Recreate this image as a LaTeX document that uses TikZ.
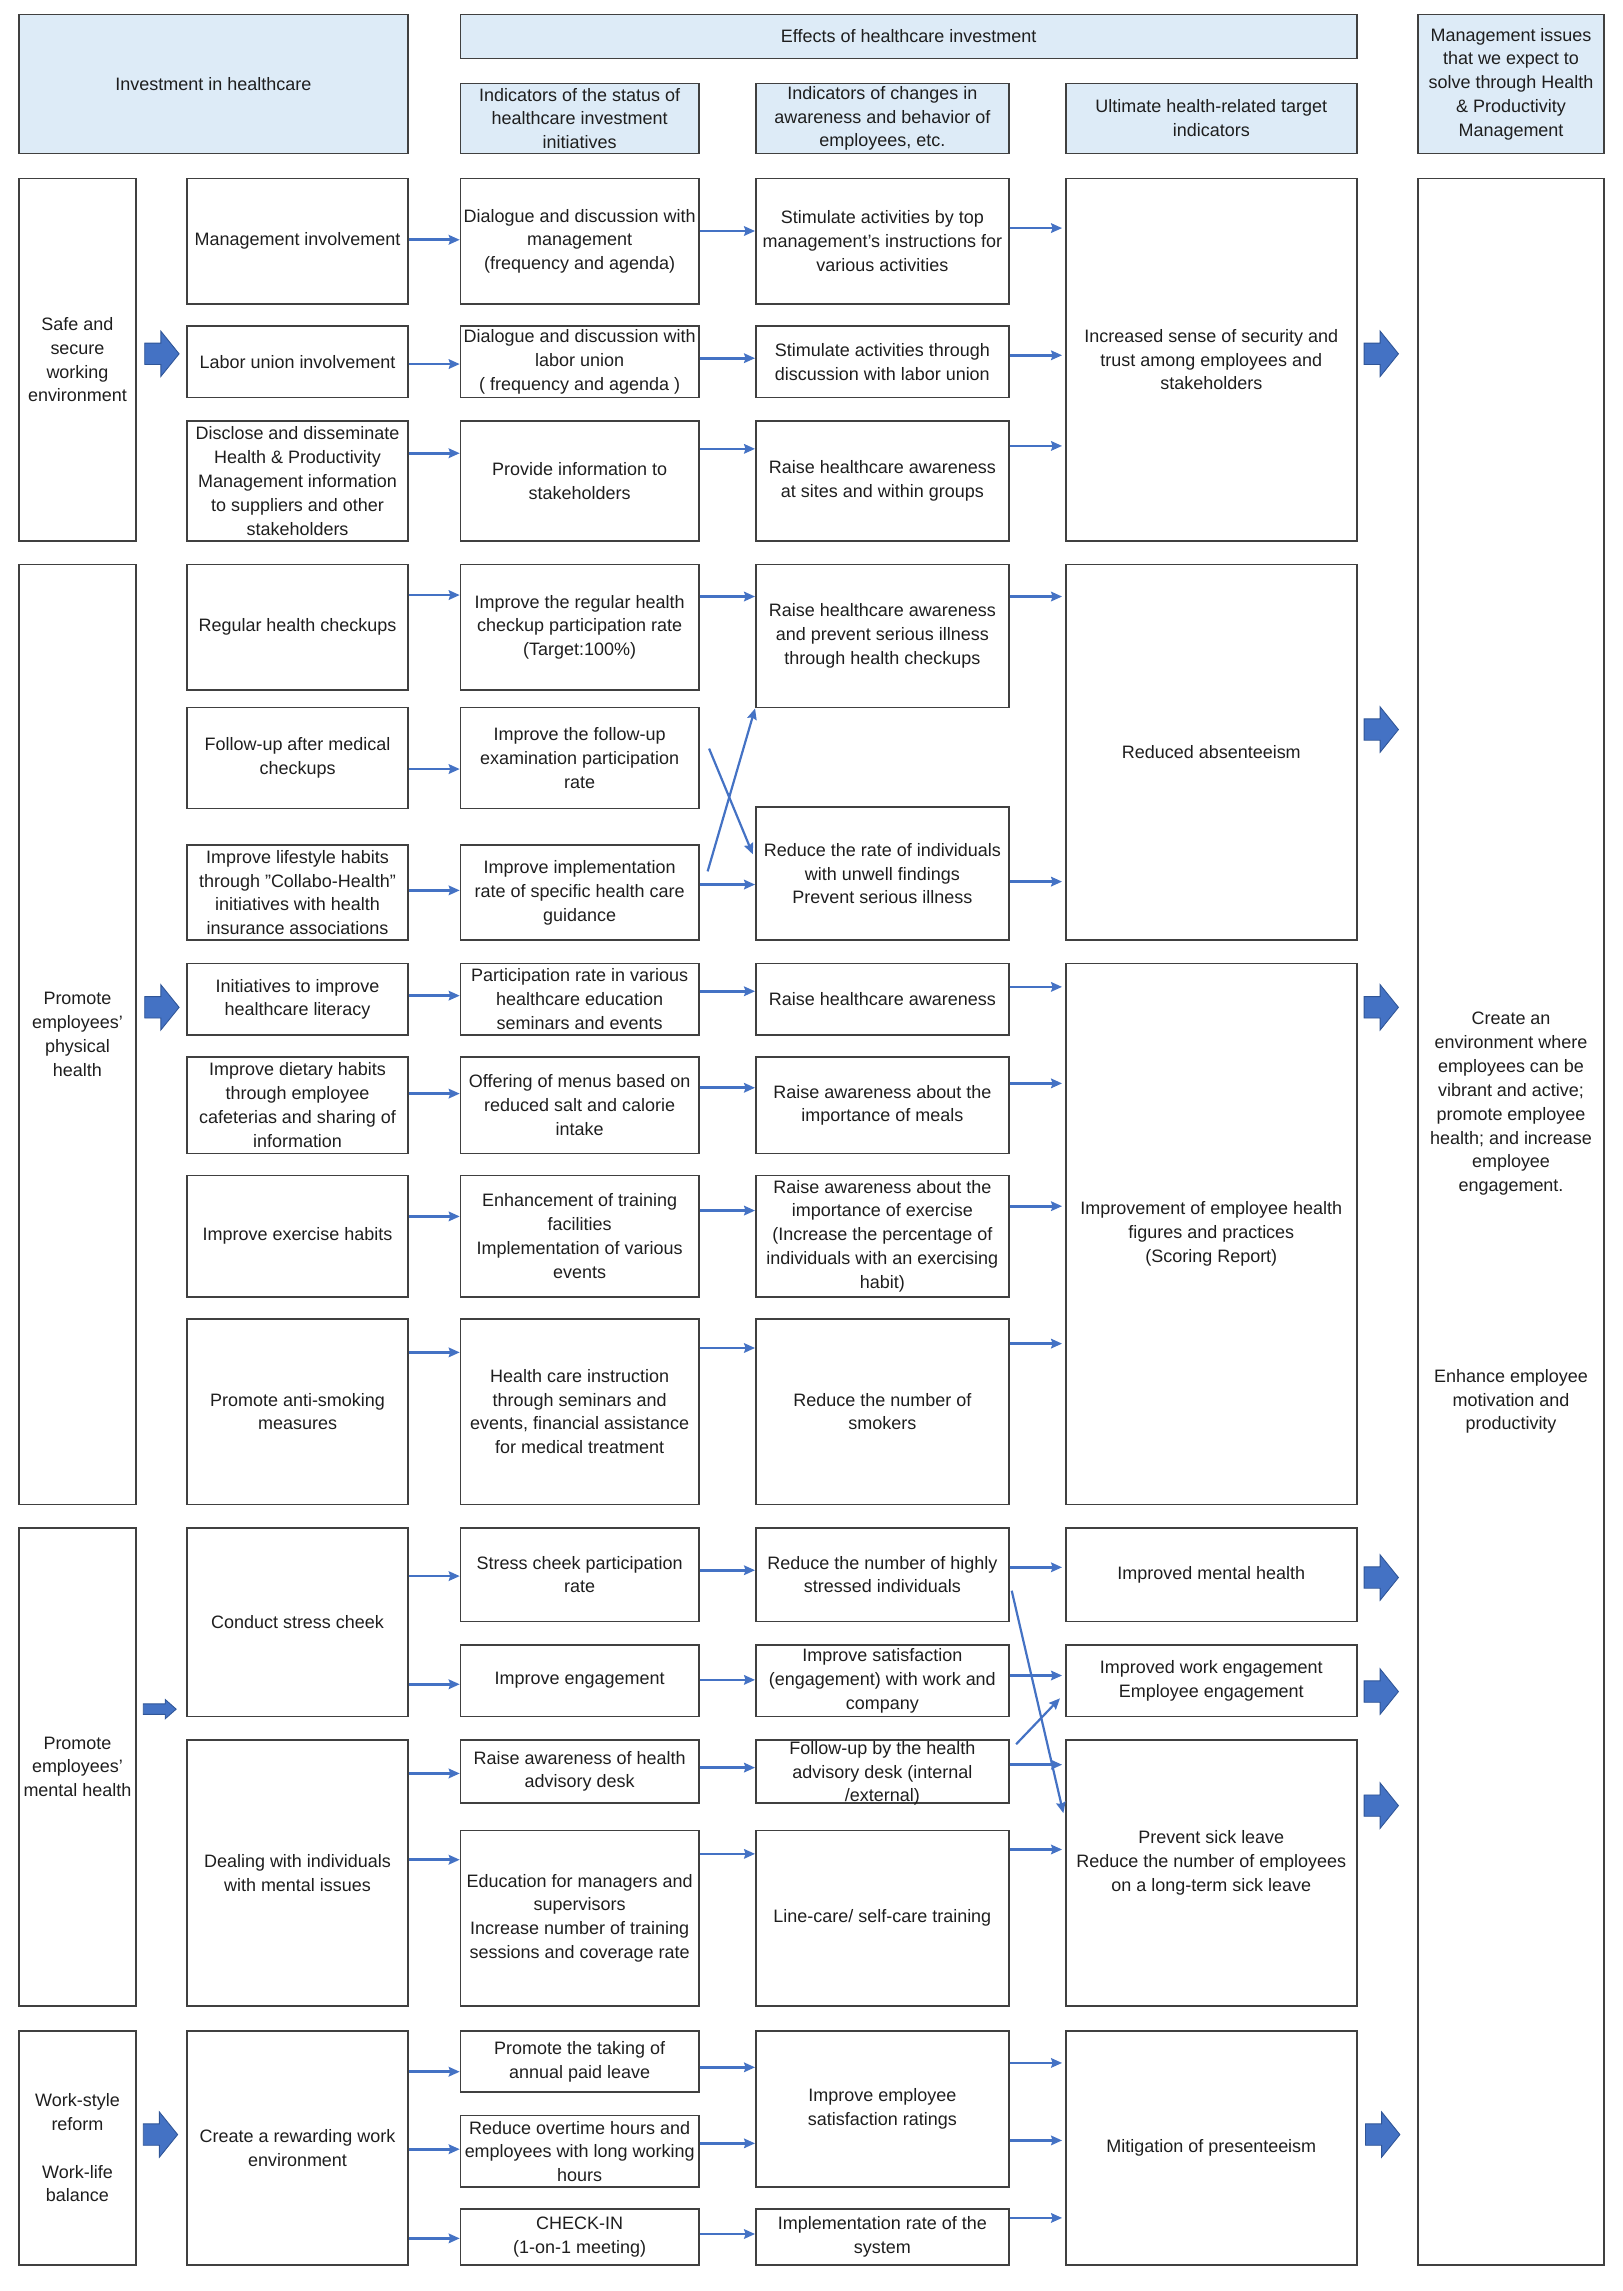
\documentclass[tikz,border=0pt]{standalone}
\usepackage{fontspec}
\setmainfont{Liberation Sans}
\usepackage{tikz}
\usetikzlibrary{arrows.meta}

\definecolor{boxgray}{HTML}{404040}
\definecolor{headblue}{HTML}{DDEBF7}
\definecolor{arrowblue}{HTML}{4472C4}
\definecolor{arrowedge}{HTML}{2F5597}
\definecolor{textdark}{HTML}{1E1E1E}
\newcommand{\boxfont}{\fontsize{12.3pt}{16.3pt}\selectfont}

\tikzset{
	box/.style={draw=boxgray, line width=1.1pt, inner sep=0pt, align=center,
		font=\boxfont, text=textdark},
	head/.style={box, fill=headblue},
	boxtext/.style={inner sep=0pt, align=center, font=\boxfont, text=textdark},
	span/.style n args={4}{at={({(#1+#3)/2},{(#2+#4)/2})},
		minimum width={#3-#1}, minimum height={#4-#2}},
	bigarrow/.style={fill=arrowblue, draw=arrowedge, line width=0.6pt},
	blockarrow/.pic={\filldraw[bigarrow] (0,-7.3) -- (11,-7.3) -- (11,-15.5)
		-- (23.5,0) -- (11,15.5) -- (11,7.3) -- (0,7.3) -- cycle;},
	smallarrow/.pic={\filldraw[bigarrow] (0,-3.6) -- (15,-3.6) -- (15,-6.6)
		-- (22.5,0) -- (15,6.6) -- (15,3.6) -- (0,3.6) -- cycle;}
}

\begin{document}
\begin{tikzpicture}[x=1pt, y=-1pt]
	\useasboundingbox (0,0) rectangle (1110,1567);

	% headers
	\node[head, span={13}{10}{279}{105}] (hinvest) {Investment in healthcare};
	\node[head, span={315}{10}{928}{40}] (heffects) {Effects of healthcare investment};
	\node[head, span={315}{57}{478}{105}] (hstatus)
		{Indicators of the status of\\healthcare investment\\initiatives};
	\node[head, span={517}{57}{690}{105}] (hchanges)
		{Indicators of changes in\\awareness and behavior of\\employees, etc.};
	\node[head, span={729}{57}{928}{105}] (htarget)
		{Ultimate health-related target\\indicators};
	\node[head, span={970}{10}{1097}{105}] (hissues)
		{Management issues\\that we expect to\\solve through Health\\\& Productivity\\Management};

	% safe and secure working environment
	\node[box, span={13}{122}{93}{370}] (safe) {Safe and\\secure\\working\\environment};
	\node[box, span={128}{122}{279}{208}] (mgmt) {Management involvement};
	\node[box, span={128}{223}{279}{272}] (union) {Labor union involvement};
	\node[box, span={128}{288}{279}{370}] (disclose)
		{Disclose and disseminate\\Health \& Productivity\\Management information\\to suppliers and other\\stakeholders};
	\node[box, span={315}{122}{478}{208}] (dlgmgmt)
		{Dialogue and discussion with\\management\\(frequency and agenda)};
	\node[box, span={315}{223}{478}{272}] (dlgunion)
		{Dialogue and discussion with\\labor union\\( frequency and agenda )};
	\node[box, span={315}{288}{478}{370}] (provide) {Provide information to\\stakeholders};
	\node[box, span={517}{122}{690}{208}] (stimtop)
		{Stimulate activities by top\\management's instructions for\\various activities};
	\node[box, span={517}{223}{690}{272}] (stimunion)
		{Stimulate activities through\\discussion with labor union};
	\node[box, span={517}{288}{690}{370}] (raisesite)
		{Raise healthcare awareness\\at sites and within groups};
	\node[box, span={729}{122}{928}{370}] (trust)
		{Increased sense of security and\\trust among employees and\\stakeholders};

	% management issues column
	\node[box, span={970}{122}{1097}{1549}] (issues) {};
	\node[boxtext] (goalA) at (1033.5,755)
		{Create an\\environment where\\employees can be\\vibrant and active;\\promote employee\\health; and increase\\employee\\engagement.};
	\node[boxtext] (goalB) at (1033.5,958.5)
		{Enhance employee\\motivation and\\productivity};

	% physical health
	\node[box, span={13}{386}{93}{1029}] (physical) {Promote\\employees'\\physical\\health};
	\node[box, span={128}{386}{279}{472}] (checkup) {Regular health checkups};
	\node[box, span={128}{484}{279}{553}] (followup) {Follow-up after medical\\checkups};
	\node[box, span={128}{578}{279}{643}] (lifestyle)
		{Improve lifestyle habits\\through "Collabo-Health"\\initiatives with health\\insurance associations};
	\node[box, span={128}{659}{279}{708}] (literacy) {Initiatives to improve\\healthcare literacy};
	\node[box, span={128}{723}{279}{789}] (dietary)
		{Improve dietary habits\\through employee\\cafeterias and sharing of\\information};
	\node[box, span={128}{804}{279}{887}] (exercise) {Improve exercise habits};
	\node[box, span={128}{902}{279}{1029}] (smoking) {Promote anti-smoking\\measures};

	\node[box, span={315}{386}{478}{472}] (checkrate)
		{Improve the regular health\\checkup participation rate\\(Target:100\%)};
	\node[box, span={315}{484}{478}{553}] (followrate)
		{Improve the follow-up\\examination participation\\rate};
	\node[box, span={315}{578}{478}{643}] (guidance)
		{Improve implementation\\rate of specific health care\\guidance};
	\node[box, span={315}{659}{478}{708}] (seminars)
		{Participation rate in various\\healthcare education\\seminars and events};
	\node[box, span={315}{723}{478}{789}] (menus)
		{Offering of menus based on\\reduced salt and calorie\\intake};
	\node[box, span={315}{804}{478}{887}] (facilities)
		{Enhancement of training\\facilities\\Implementation of various\\events};
	\node[box, span={315}{902}{478}{1029}] (instruction)
		{Health care instruction\\through seminars and\\events, financial assistance\\for medical treatment};

	\node[box, span={517}{386}{690}{484}] (prevent)
		{Raise healthcare awareness\\and prevent serious illness\\through health checkups};
	\node[box, span={517}{552}{690}{643}] (unwell)
		{Reduce the rate of individuals\\with unwell findings\\Prevent serious illness};
	\node[box, span={517}{659}{690}{708}] (awareness) {Raise healthcare awareness};
	\node[box, span={517}{723}{690}{789}] (meals)
		{Raise awareness about the\\importance of meals};
	\node[box, span={517}{804}{690}{887}] (exawareness)
		{Raise awareness about the\\importance of exercise\\(Increase the percentage of\\individuals with an exercising\\habit)};
	\node[box, span={517}{902}{690}{1029}] (smokers) {Reduce the number of\\smokers};

	\node[box, span={729}{386}{928}{643}] (absent) {Reduced absenteeism};
	\node[box, span={729}{659}{928}{1029}] (figures)
		{Improvement of employee health\\figures and practices\\(Scoring Report)};

	% mental health
	\node[box, span={13}{1045}{93}{1372}] (mental) {Promote\\employees'\\mental health};
	\node[box, span={128}{1045}{279}{1174}] (stress) {Conduct stress cheek};
	\node[box, span={128}{1190}{279}{1372}] (dealing)
		{Dealing with individuals\\with mental issues};
	\node[box, span={315}{1045}{478}{1109}] (stressrate)
		{Stress cheek participation\\rate};
	\node[box, span={315}{1125}{478}{1174}] (engage) {Improve engagement};
	\node[box, span={315}{1190}{478}{1233}] (desk)
		{Raise awareness of health\\advisory desk};
	\node[box, span={315}{1252}{478}{1372}] (education)
		{Education for managers and\\supervisors\\Increase number of training\\sessions and coverage rate};
	\node[box, span={517}{1045}{690}{1109}] (highstress)
		{Reduce the number of highly\\stressed individuals};
	\node[box, span={517}{1125}{690}{1174}] (satisfy)
		{Improve satisfaction\\(engagement) with work and\\company};
	\node[box, span={517}{1190}{690}{1233}] (advisory) {};
	\node[boxtext] (advisorytxt) at (603.5,1213)
		{Follow-up by the health\\advisory desk (internal\\/external)};
	\node[box, span={517}{1252}{690}{1372}] (linecare) {Line-care/ self-care training};
	\node[box, span={729}{1045}{928}{1109}] (mentalhealth) {Improved mental health};
	\node[box, span={729}{1125}{928}{1174}] (workengage)
		{Improved work engagement\\Employee engagement};
	\node[box, span={729}{1190}{928}{1372}] (sickleave) {};
	\node[boxtext] (sickleavetxt) at (828.5,1274)
		{Prevent sick leave\\Reduce the number of employees\\on a long-term sick leave};

	% work-style reform
	\node[box, span={13}{1389}{93}{1549}] (workstyle)
		{Work-style\\reform\\[16.3pt]Work-life\\balance};
	\node[box, span={128}{1389}{279}{1549}] (rewarding)
		{Create a rewarding work\\environment};
	\node[box, span={315}{1389}{478}{1431}] (paidleave)
		{Promote the taking of\\annual paid leave};
	\node[box, span={315}{1447}{478}{1496}] (overtime)
		{Reduce overtime hours and\\employees with long working\\hours};
	\node[box, span={315}{1511}{478}{1549}] (checkin) {CHECK-IN\\(1-on-1 meeting)};
	\node[box, span={517}{1389}{690}{1496}] (satratings)
		{Improve employee\\satisfaction ratings};
	\node[box, span={517}{1511}{690}{1549}] (sysrate)
		{Implementation rate of the\\system};
	\node[box, span={729}{1389}{928}{1549}] (presentee) {Mitigation of presenteeism};

	% block arrows
	\pic at (99,242) {blockarrow};
	\pic at (933,242) {blockarrow};
	\pic at (99,689) {blockarrow};
	\pic at (933,499) {blockarrow};
	\pic at (933,689) {blockarrow};
	\pic at (98,1169) {smallarrow};
	\pic at (933,1079) {blockarrow};
	\pic at (933,1157) {blockarrow};
	\pic at (933,1235) {blockarrow};
	\pic at (98,1460) {blockarrow};
	\pic at (934,1460) {blockarrow};

	\coordinate (crossup) at (484,596);
	\coordinate (crossdown) at (485,512);
	\coordinate (stressdown) at (692,1088);
	\coordinate (deskup) at (695,1193);

	\begin{scope}[>={Stealth[arrowblue, length=7.5pt, width=6.5pt, inset=1pt]},
			every edge/.style={draw=arrowblue, line width=1.8pt}]
		% safe and secure
		\path[->] (mgmt.east |- 0,164) edge (dlgmgmt.west |- 0,164)
			(union.east |- 0,249) edge (dlgunion.west |- 0,249)
			(disclose.east |- 0,310) edge (provide.west |- 0,310)
			(dlgmgmt.east |- 0,158) edge (stimtop.west |- 0,158)
			(dlgunion.east |- 0,245) edge (stimunion.west |- 0,245)
			(provide.east |- 0,307) edge (raisesite.west |- 0,307);
		\path[->, shorten >=2pt] (stimtop.east |- 0,156) edge (trust.west |- 0,156)
			(stimunion.east |- 0,243) edge (trust.west |- 0,243)
			(raisesite.east |- 0,305) edge (trust.west |- 0,305);
		% physical
		\path[->] (checkup.east |- 0,407) edge (checkrate.west |- 0,407)
			(followup.east |- 0,526) edge (followrate.west |- 0,526)
			(lifestyle.east |- 0,609) edge (guidance.west |- 0,609)
			(literacy.east |- 0,681) edge (seminars.west |- 0,681)
			(dietary.east |- 0,748) edge (menus.west |- 0,748)
			(exercise.east |- 0,832) edge (facilities.west |- 0,832)
			(smoking.east |- 0,925) edge (instruction.west |- 0,925);
		\path[->] (checkrate.east |- 0,408) edge (prevent.west |- 0,408)
			(guidance.east |- 0,605) edge (unwell.west |- 0,605)
			(seminars.east |- 0,678) edge (awareness.west |- 0,678)
			(menus.east |- 0,744) edge (meals.west |- 0,744)
			(facilities.east |- 0,828) edge (exawareness.west |- 0,828)
			(instruction.east |- 0,922) edge (smokers.west |- 0,922);
		\path[->, shorten >=2pt] (prevent.east |- 0,408) edge (absent.west |- 0,408)
			(unwell.east |- 0,603) edge (absent.west |- 0,603)
			(awareness.east |- 0,675) edge (figures.west |- 0,675)
			(meals.east |- 0,741) edge (figures.west |- 0,741)
			(exawareness.east |- 0,825) edge (figures.west |- 0,825)
			(smokers.east |- 0,919) edge (figures.west |- 0,919);
		\path[->, every edge/.append style={line width=1.5pt}]
			(crossup) edge (prevent.south west)
			(crossdown) edge[shorten >=4pt] (unwell.west |- 0,588);
		% mental
		\path[->] (stress.east |- 0,1078) edge (stressrate.west |- 0,1078)
			(stress.east |- 0,1152) edge (engage.west |- 0,1152)
			(dealing.east |- 0,1213) edge (desk.west |- 0,1213)
			(dealing.east |- 0,1272) edge (education.west |- 0,1272);
		\path[->] (stressrate.east |- 0,1074) edge (highstress.west |- 0,1074)
			(engage.east |- 0,1149) edge (satisfy.west |- 0,1149)
			(desk.east |- 0,1209) edge (advisory.west |- 0,1209)
			(education.east |- 0,1268) edge (linecare.west |- 0,1268);
		\path[->, shorten >=2pt] (highstress.east |- 0,1072) edge (mentalhealth.west |- 0,1072)
			(satisfy.east |- 0,1146) edge (workengage.west |- 0,1146)
			(advisory.east |- 0,1207) edge (sickleave.west |- 0,1207)
			(linecare.east |- 0,1265) edge (sickleave.west |- 0,1265);
		\path[->, shorten >=5pt, every edge/.append style={line width=1.5pt}]
			(stressdown) edge (sickleave.west |- 0,1245)
			(deskup) edge (workengage.west |- 0,1158);
		% work-style
		\path[->] (rewarding.east |- 0,1417) edge (paidleave.west |- 0,1417)
			(rewarding.east |- 0,1470) edge (overtime.west |- 0,1470)
			(rewarding.east |- 0,1531) edge (checkin.west |- 0,1531);
		\path[->] (paidleave.east |- 0,1414) edge (satratings.west |- 0,1414)
			(overtime.east |- 0,1466) edge (satratings.west |- 0,1466)
			(checkin.east |- 0,1528) edge (sysrate.west |- 0,1528);
		\path[->, shorten >=2pt] (satratings.east |- 0,1411) edge (presentee.west |- 0,1411)
			(satratings.east |- 0,1464) edge (presentee.west |- 0,1464)
			(sysrate.east |- 0,1517) edge (presentee.west |- 0,1517);
	\end{scope}

\end{tikzpicture}
\end{document}
